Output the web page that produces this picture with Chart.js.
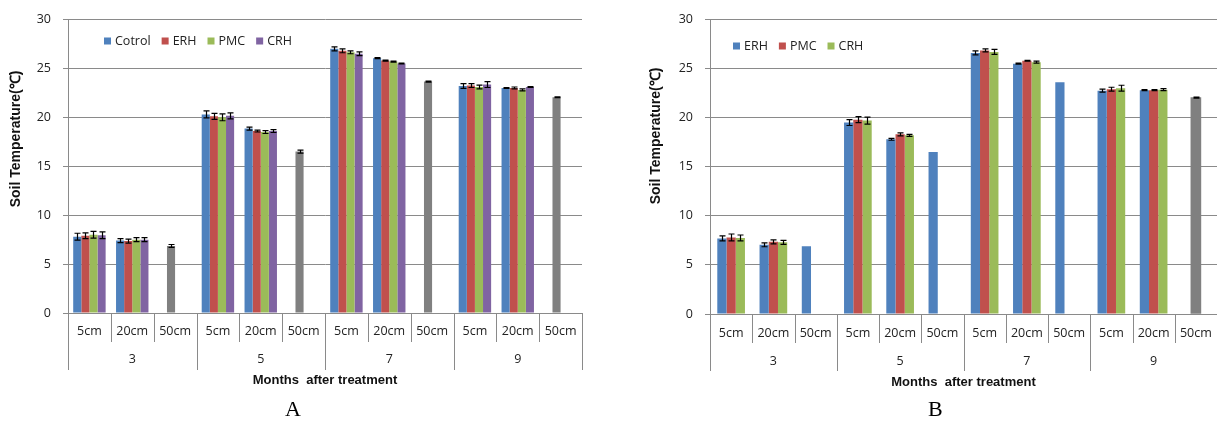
<!DOCTYPE html>
<html><head><meta charset="utf-8">
<script src="https://cdn.jsdelivr.net/npm/chart.js@4.4.1/dist/chart.umd.min.js"></script>
<style>
html,body{margin:0;padding:0;background:#fff;width:1217px;height:421px;overflow:hidden;}
.box{position:absolute;top:0;height:421px;}
#boxA{left:0;width:600px;}
#boxB{left:600px;width:617px;}
.lab{position:absolute;font-family:"Liberation Serif",serif;font-size:22px;color:#000;top:397px;line-height:24px;}
</style></head><body>
<div class="box" id="boxA"><canvas id="cA"></canvas></div>
<div class="box" id="boxB"><canvas id="cB"></canvas></div>
<div class="lab" style="left:285px">A</div>
<div class="lab" style="left:928px">B</div>
<script>
// ---------- categories ----------
const depthLabels = ['5cm','20cm','50cm','5cm','20cm','50cm','5cm','20cm','50cm','5cm','20cm','50cm'];
const monthLabels = ['3','5','7','9'];
const yTicks = [0,5,10,15,20,25,30];

// ---------- chart A values ----------
const aCotrol = [7.8, 7.4, null, 20.3, 18.85, null, 27.0, 26.05, null, 23.2, 23.0, null];
const aERH    = [7.9, 7.35, null, 20.1, 18.6, null, 26.8, 25.8, null, 23.25, 23.0, null];
const aPMC    = [8.0, 7.5, null, 20.0, 18.5, null, 26.65, 25.7, null, 23.1, 22.8, null];
const aCRH    = [7.95, 7.5, null, 20.15, 18.6, null, 26.5, 25.5, null, 23.35, 23.1, null];
const a50cm   = [null, null, 6.85, null, null, 16.5, null, null, 23.65, null, null, 22.05];
const aCotrolErr = [0.35, 0.2, 0, 0.35, 0.15, 0, 0.2, 0.05, 0, 0.25, 0.05, 0];
const aERHErr    = [0.3, 0.2, 0, 0.3, 0.1, 0, 0.2, 0.05, 0, 0.2, 0.1, 0];
const aPMCErr    = [0.35, 0.2, 0, 0.35, 0.15, 0, 0.15, 0.05, 0, 0.2, 0.1, 0];
const aCRHErr    = [0.35, 0.2, 0, 0.3, 0.15, 0, 0.2, 0.05, 0, 0.3, 0.05, 0];
const a50cmErr   = [0, 0, 0.15, 0, 0, 0.15, 0, 0, 0.05, 0, 0, 0.05];

// ---------- chart B values ----------
const bERH  = [7.7, 7.05, 6.9, 19.5, 17.8, 16.5, 26.6, 25.5, 23.6, 22.75, 22.8, null];
const bPMC  = [7.8, 7.35, null, 19.8, 18.3, null, 26.85, 25.8, null, 22.9, 22.8, null];
const bCRH  = [7.75, 7.3, null, 19.7, 18.2, null, 26.7, 25.65, null, 23.0, 22.85, null];
const b50cm = [null, null, null, null, null, null, null, null, null, null, null, 22.05];
const bERHErr  = [0.25, 0.2, 0, 0.3, 0.1, 0, 0.2, 0.05, 0, 0.15, 0.05, 0];
const bPMCErr  = [0.35, 0.2, 0, 0.3, 0.15, 0, 0.15, 0.05, 0, 0.2, 0.05, 0];
const bCRHErr  = [0.3, 0.2, 0, 0.35, 0.1, 0, 0.25, 0.1, 0, 0.3, 0.1, 0];
const b50cmErr = [0, 0, 0, 0, 0, 0, 0, 0, 0, 0, 0, 0.05];

const C = {blue:'#4F81BD', red:'#C0504D', green:'#9BBB59', purple:'#8064A2', gray:'#808080', grid:'#8a8a8a', text:'#222'};
const FONT = '"Open Sans", sans-serif';
Chart.defaults.font.family = FONT;
Chart.defaults.font.size = 12;
Chart.defaults.color = C.text;

function decor(p) {
  return {
    id: 'decor',
    afterDatasetsDraw(chart) {
      const ctx = chart.ctx, ys = chart.scales.y;
      ctx.save();
      ctx.strokeStyle = '#000'; ctx.lineWidth = 1.2;
      chart.data.datasets.forEach((ds, i) => {
        if (!ds.errors) return;
        const meta = chart.getDatasetMeta(i);
        meta.data.forEach((el, j) => {
          const v = ds.data[j], e = ds.errors[j];
          if (v == null || !e) return;
          const x = Math.round(el.x) + 0.5;
          const y1 = ys.getPixelForValue(v + e), y2 = ys.getPixelForValue(v - e);
          ctx.beginPath();
          ctx.moveTo(x, y1); ctx.lineTo(x, y2);
          ctx.moveTo(x - 3, y1); ctx.lineTo(x + 3, y1);
          ctx.moveTo(x - 3, y2); ctx.lineTo(x + 3, y2);
          ctx.stroke();
        });
      });
      ctx.restore();
    },
    afterDraw(chart) {
      const ctx = chart.ctx, xs = chart.scales.x, a = chart.chartArea;
      const n = depthLabels.length;
      const slot = (xs.getPixelForValue(n - 1) - xs.getPixelForValue(0)) / (n - 1);
      ctx.save();
      // separators
      ctx.strokeStyle = C.grid; ctx.lineWidth = 1;
      for (let k = 0; k <= n; k++) {
        const x = Math.round(xs.getPixelForValue(0) - slot / 2 + k * slot) + 0.5;
        ctx.beginPath();
        ctx.moveTo(x, a.bottom);
        ctx.lineTo(x, k % 3 === 0 ? p.groupSepY : p.subSepY);
        ctx.stroke();
      }
      // depth labels
      ctx.fillStyle = C.text; ctx.textAlign = 'center'; ctx.textBaseline = 'middle';
      ctx.font = '12.5px ' + FONT;
      depthLabels.forEach((t, i) => ctx.fillText(t, xs.getPixelForValue(i), p.subY));
      monthLabels.forEach((t, g) => {
        const cx = (xs.getPixelForValue(3 * g) + xs.getPixelForValue(3 * g + 2)) / 2;
        ctx.fillText(t, cx, p.groupY);
      });
      // x title
      ctx.font = 'bold 13px "Liberation Sans", sans-serif';
      ctx.fillStyle = '#111';
      ctx.fillText('Months  after treatment', (a.left + a.right) / 2, p.xTitleY);
      // y title
      ctx.save();
      ctx.font = 'bold 14px "Liberation Sans", sans-serif';
      ctx.translate(p.yTitleX, p.yTitleY);
      ctx.rotate(-Math.PI / 2);
      ctx.fillText('Soil Temperature(℃)', 0, 0);
      ctx.restore();
      // legend
      ctx.font = '12.5px ' + FONT; ctx.textAlign = 'left'; ctx.fillStyle = C.text;
      let lx = p.legX;
      chart.data.datasets.forEach(ds => {
        if (ds.showInLegend === false) return;
        ctx.fillStyle = ds.backgroundColor;
        ctx.fillRect(lx, p.legY - 3.5, 7, 7);
        ctx.fillStyle = C.text;
        ctx.fillText(ds.label, lx + 11, p.legY + 0.5);
        lx += 11 + ctx.measureText(ds.label).width + 11;
      });
      ctx.restore();
    }
  };
}

function yScale(width) {
  return {
    min: 0, max: 30, stacked: false,
    afterFit(s) { s.width = width; },
    afterBuildTicks(s) { s.ticks = yTicks.map(v => ({value: v})); },
    grid: {color: C.grid, tickLength: 5, lineWidth: 1},
    border: {color: C.grid},
    ticks: {padding: 12, color: C.text, font: {size: 12.5}}
  };
}

function baseOptions(pad, yw, catPct) {
  return {
    responsive: true, maintainAspectRatio: false, animation: false, devicePixelRatio: 1,
    layout: {padding: pad},
    datasets: {bar: {categoryPercentage: catPct, barPercentage: 1.0}},
    plugins: {legend: {display: false}, tooltip: {enabled: false}},
    scales: {
      x: {display: false, offset: true},
      y: yScale(yw)
    }
  };
}

new Chart(document.getElementById('cA'), {
  type: 'bar',
  data: {
    labels: depthLabels,
    datasets: [
      {label: 'Cotrol', data: aCotrol, errors: aCotrolErr, backgroundColor: C.blue, stack: 's1'},
      {label: 'ERH', data: aERH, errors: aERHErr, backgroundColor: C.red, stack: 's2'},
      {label: '50cm', data: a50cm, errors: a50cmErr, backgroundColor: C.gray, stack: 's2', showInLegend: false},
      {label: 'PMC', data: aPMC, errors: aPMCErr, backgroundColor: C.green, stack: 's3'},
      {label: 'CRH', data: aCRH, errors: aCRHErr, backgroundColor: C.purple, stack: 's4'}
    ]
  },
  options: baseOptions({left: 0, right: 18, top: 16, bottom: 108}, 68, 0.757),
  plugins: [decor({subSepY: 342, groupSepY: 370, subY: 331, groupY: 359, xTitleY: 380,
                   yTitleX: 16, yTitleY: 139, legX: 104, legY: 41})]
});

new Chart(document.getElementById('cB'), {
  type: 'bar',
  data: {
    labels: depthLabels,
    datasets: [
      {label: 'ERH', data: bERH, errors: bERHErr, backgroundColor: C.blue},
      {label: 'PMC', data: bPMC, errors: bPMCErr, backgroundColor: C.red},
      {label: 'CRH', data: bCRH, errors: bCRHErr, backgroundColor: C.green},
      {label: '50cm', data: b50cm, errors: b50cmErr, backgroundColor: C.gray, grouped: false, barThickness: 10, showInLegend: false}
    ]
  },
  options: baseOptions({left: 0, right: 0, top: 17, bottom: 107}, 110, 0.655),
  plugins: [decor({subSepY: 343, groupSepY: 371, subY: 333, groupY: 361, xTitleY: 382,
                   yTitleX: 56, yTitleY: 136, legX: 133, legY: 46})]
});
</script>
</body></html>
